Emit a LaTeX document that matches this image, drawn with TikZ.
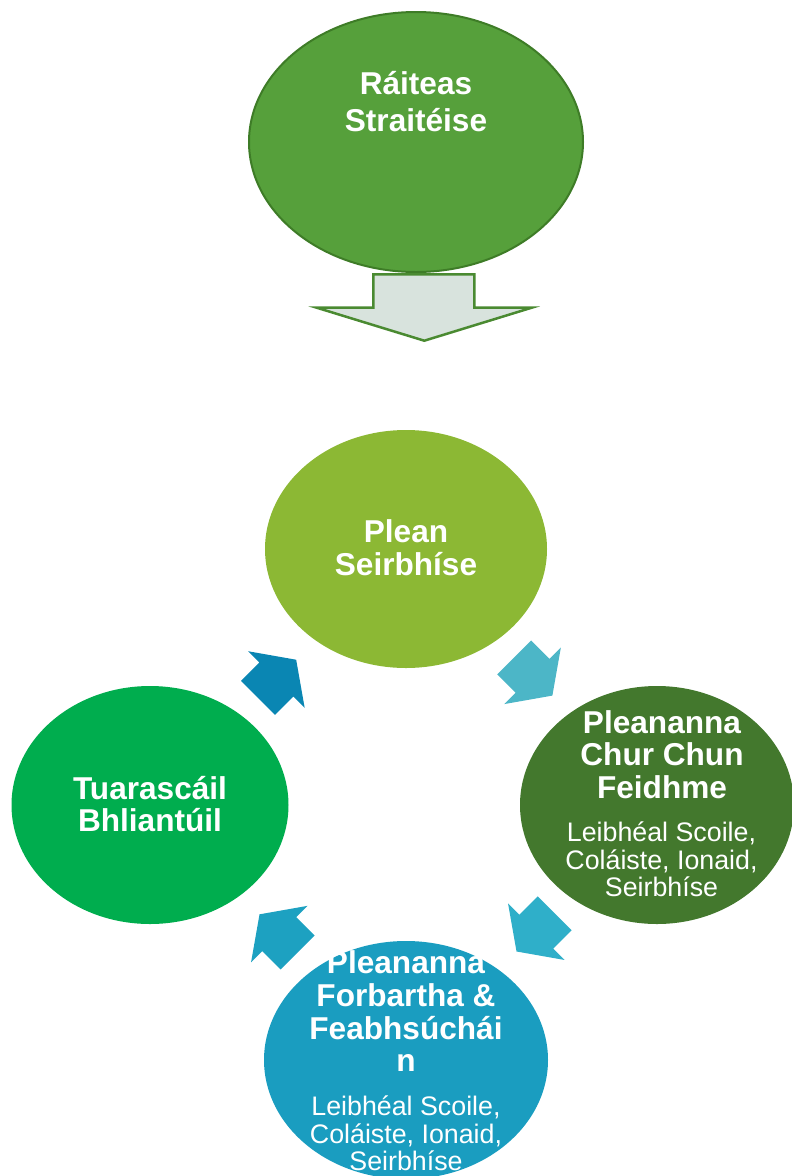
\documentclass[tikz,border=0pt]{standalone}
\usepackage{fontspec}
\setmainfont{Liberation Sans}
\usepackage{tikz}
\usetikzlibrary{shapes.geometric}
\definecolor{colorStrat}{HTML}{56A03B}
\definecolor{colorStratEdge}{HTML}{3E7C27}
\definecolor{colorDown}{HTML}{D8E3DD}
\definecolor{colorDownEdge}{HTML}{4A8A31}
\definecolor{colorPlean}{HTML}{8CB834}
\definecolor{colorCur}{HTML}{43782D}
\definecolor{colorForb}{HTML}{1A9DC0}
\definecolor{colorTuar}{HTML}{00AD4E}
\definecolor{colorA}{HTML}{4CB6C7}
\definecolor{colorB}{HTML}{2FAFC9}
\definecolor{colorC}{HTML}{1DA1C1}
\definecolor{colorD}{HTML}{0A86B3}
% block arrow of the cycle: back middle, angle, colour
\newcommand{\cycarrow}[3]{%
	\fill[#3, shift={#1}, rotate=#2] (0,-24) -- (26,-24) -- (26,-40) -- (54,0) -- (26,40) -- (26,24) -- (0,24) -- cycle;
}

\begin{document}
\begin{tikzpicture}[x=1pt, y=-1pt,
		blob/.style={ellipse, inner sep=0pt},
		bigtxt/.style={text=white, align=center, anchor=base, inner sep=0pt,
			font=\bfseries\fontsize{31.6}{32.6}\selectfont},
		smalltxt/.style={text=white, align=center, anchor=base, inner sep=0pt,
			font=\fontsize{26.8}{27.6}\selectfont},
	]
		\clip (0,0) rectangle (792,1176);
		\useasboundingbox (0,0) rectangle (792,1176);
		%
		\node[blob, fill=colorStrat, draw=colorStratEdge, line width=2pt,
			minimum width=334, minimum height=260] (strat) at (416,142) {};
		\node[blob, fill=colorPlean, minimum width=282, minimum height=238] (plean) at (406,549) {};
		\node[blob, fill=colorCur, minimum width=274, minimum height=238] (cur) at (657,805) {};
		\node[blob, fill=colorForb, minimum width=284, minimum height=238] (forb) at (406,1060) {};
		\node[blob, fill=colorTuar, minimum width=277, minimum height=238] (tuar) at (150,805) {};
		%
		\draw[fill=colorDown, draw=colorDownEdge, line width=2.5pt]
			(373.3,274.3) -- (474.3,274.3) -- (474.3,307.7) -- (531.7,307.7)
			-- (424.3,340.7) -- (316.7,307.7) -- (373.3,307.7) -- cycle;
		%
		\cycarrow{(514.2,657.4)}{-45}{colorA}
		\cycarrow{(554.7,913.3)}{-135}{colorB}
		\cycarrow{(297.7,952.5)}{135}{colorC}
		\cycarrow{(258,697.9)}{45}{colorD}
		%
		% anchor base sits on the last line
		\node[bigtxt, font=\bfseries\fontsize{31.6}{37.4}\selectfont] (strat-t) at (416,131.7) {Ráiteas\\Straitéise};
		\node[bigtxt] (plean-t) at (406,575) {Plean\\Seirbhíse};
		\node[bigtxt] (cur-t) at (662,798.3) {Pleananna\\Chur Chun\\Feidhme};
		\node[smalltxt] (cur-s) at (661.5,896.7) {Leibhéal Scoile,\\Coláiste, Ionaid,\\Seirbhíse};
		\node[bigtxt] (forb-t) at (406,1071.7) {Pleananna\\Forbartha \&\\Feabhsúchái\\n};
		\node[smalltxt] (forb-s) at (406,1170.7) {Leibhéal Scoile,\\Coláiste, Ionaid,\\Seirbhíse};
		\node[bigtxt] (tuar-t) at (150,831.7) {Tuarascáil\\Bhliantúil};
	\end{tikzpicture}
\end{document}
